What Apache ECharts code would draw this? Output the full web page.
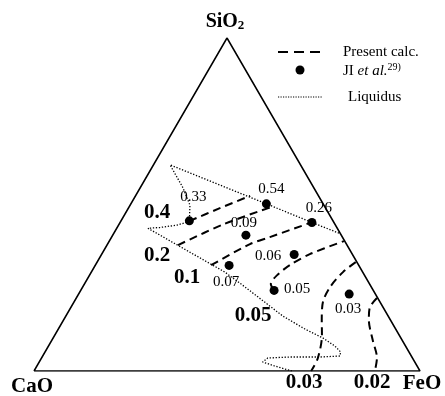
<!DOCTYPE html>
<html><head><meta charset="utf-8">
<script src="https://cdn.jsdelivr.net/npm/echarts@6/dist/echarts.min.js"></script>
<style>html,body{margin:0;padding:0;background:#fff}#c{width:445px;height:396px}</style>
</head><body><div id="c"></div>
<script>
// Compositions as [FeO fraction, SiO2 fraction]; CaO = 1 - FeO - SiO2
const vertices = [[0,0],[1,0],[0,1],[0,0]];
const expValues = ['0.33','0.54','0.26','0.09','0.06','0.07','0.05','0.03'];
const expPoints = [[0.177,0.451],[0.351,0.502],[0.497,0.446],[0.345,0.408],[0.499,0.350],[0.347,0.317],[0.501,0.242],[0.701,0.231]];
const isoValues = ['0.4','0.2','0.1','0.05','0.03','0.02'];
const iso040 = [[0.177,0.450],[0.237,0.489],[0.297,0.526]];
const iso020 = [[0.184,0.378],[0.271,0.441],[0.374,0.495]];
const iso010 = [[0.300,0.318],[0.369,0.381],[0.410,0.402],[0.497,0.447]];
const iso005 = [[0.500,0.243],[0.483,0.261],[0.486,0.288],[0.504,0.318],[0.539,0.351],[0.608,0.390]];
const iso003 = [[0.670,0.327],[0.652,0.297],[0.641,0.252],[0.645,0.207],[0.669,0.153],[0.692,0.108],[0.716,0.039],[0.718,0.000]];
const iso002 = [[0.779,0.219],[0.775,0.189],[0.791,0.153],[0.831,0.093],[0.869,0.039],[0.883,0.000]];
const liquidus = [[0.583,0.414],[0.497,0.446],[0.351,0.502],[0.043,0.619],[0.111,0.550],[0.155,0.498],[0.177,0.451],
  [0.171,0.446],[0.151,0.438],[0.111,0.431],[0.081,0.4285],[0.346,0.297],[0.421,0.252],[0.494,0.207],[0.562,0.165],
  [0.639,0.126],[0.699,0.099],[0.742,0.075],[0.766,0.057],[0.770,0.045],[0.720,0.042],[0.642,0.042],[0.586,0.039],
  [0.579,0.027],[0.616,0.015],[0.668,0.000]];

const FONT = '"Liberation Serif", "Times New Roman", serif';
const toXY = p => [p[0] + p[1]/2, p[1]];

// layout only (label offsets in px)
const expLabelOffsets = [[4,-24],[5,-15],[7,-14],[-2,-12],[-26,2],[-3,17],[23,-1],[-1,15]];
const isoLabelPos = [[157,213],[157,256],[187,278],[253,316],[304,383],[372,383]];

const chart = echarts.init(document.getElementById('c'), null, {renderer:'canvas'});
const dashStyle = {color:'#000', width:2, type:[8,5]};
const isoSeries = [iso040, iso020, iso010, iso005, iso003, iso002].map((d,i) => ({
  type:'line', name:'iso'+isoValues[i], data:d.map(toXY), symbol:'none', smooth:0.3,
  lineStyle:dashStyle, z:3, silent:true
}));

const graphics = [];
isoValues.forEach((v,i) => graphics.push({type:'text', x:isoLabelPos[i][0], y:isoLabelPos[i][1],
  style:{text:v, font:'bold 21px '+FONT, fill:'#000', textAlign:'center', textVerticalAlign:'middle'}}));
graphics.push({type:'text', x:225, y:22, style:{text:'{b|SiO}{s|2}', textAlign:'center', textVerticalAlign:'middle',
  rich:{b:{font:'bold 20px '+FONT, fill:'#000'}, s:{font:'bold 13px '+FONT, fill:'#000', padding:[8,0,0,0]}}}});
graphics.push({type:'text', x:32, y:387, style:{text:'CaO', font:'bold 21px '+FONT, fill:'#000', textAlign:'center', textVerticalAlign:'middle'}});
graphics.push({type:'text', x:422, y:384, style:{text:'FeO', font:'bold 21px '+FONT, fill:'#000', textAlign:'center', textVerticalAlign:'middle'}});
// legend
graphics.push({type:'line', shape:{x1:278,y1:52,x2:322,y2:52}, style:{stroke:'#000', lineWidth:2, lineDash:[10,6]}});
graphics.push({type:'circle', shape:{cx:300,cy:70,r:4.5}, style:{fill:'#000'}});
graphics.push({type:'line', shape:{x1:278,y1:97,x2:323,y2:97}, style:{stroke:'#000', lineWidth:1.2, lineDash:[1.2,1.3]}});
graphics.push({type:'text', x:343, y:52, style:{text:'Present calc.', font:'15px '+FONT, fill:'#000', textVerticalAlign:'middle'}});
graphics.push({type:'text', x:343, y:71, style:{text:'{n|JI }{i|et al.}{s|29)}', textVerticalAlign:'middle',
  rich:{n:{font:'15px '+FONT, fill:'#000'}, i:{font:'italic 15px '+FONT, fill:'#000'}, s:{font:'10px '+FONT, fill:'#000', padding:[0,0,8,0]}}}});
graphics.push({type:'text', x:348, y:97, style:{text:'Liquidus', font:'15px '+FONT, fill:'#000', textVerticalAlign:'middle'}});

chart.setOption({
  animation:false,
  backgroundColor:'#fff',
  grid:{left:34, top:38, width:386, height:333},
  xAxis:{type:'value', min:0, max:1, show:false},
  yAxis:{type:'value', min:0, max:1, show:false},
  series:[
    {type:'line', data:vertices.map(toXY), symbol:'none', lineStyle:{color:'#000', width:1.5}, z:2, silent:true},
    {type:'line', data:liquidus.map(toXY), symbol:'none', lineStyle:{color:'#000', width:1.3, type:[1.3,1.7]}, z:2, silent:true},
    ...isoSeries,
    {type:'scatter', data:expPoints.map((p,i) => ({value:toXY(p), label:{offset:expLabelOffsets[i]}})),
     symbol:'circle', symbolSize:9, itemStyle:{color:'#000', opacity:1}, z:5, silent:true,
     label:{show:true, position:'inside', formatter:p => expValues[p.dataIndex], fontFamily:FONT, fontSize:15, color:'#000', opacity:1}}
  ],
  graphic:graphics
});
</script></body></html>
